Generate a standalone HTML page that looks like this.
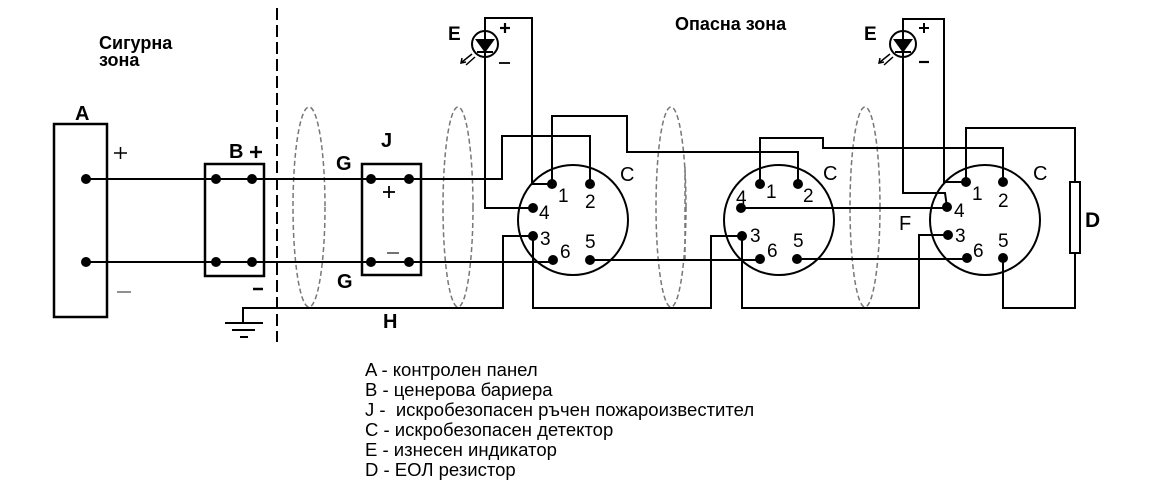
<!DOCTYPE html>
<html><head><meta charset="utf-8"><style>
html,body{margin:0;padding:0;background:#fff;}
svg{display:block;}
text{font-family:"Liberation Sans",Arial,sans-serif;fill:#000;}
.b{font-weight:bold;}
</style></head><body>
<svg width="1152" height="483" viewBox="0 0 1152 483" xmlns="http://www.w3.org/2000/svg">
<rect width="1152" height="483" fill="#fff"/>
<!-- zone titles -->
<text x="99" y="49" class="b" font-size="18">Сигурна</text>
<text x="99" y="66" class="b" font-size="18">зона</text>
<text x="675" y="30" class="b" font-size="18">Опасна зона</text>

<!-- dashed zone border -->
<line x1="277" y1="8" x2="277" y2="342" stroke="#000" stroke-width="2" stroke-dasharray="12,5"/>

<!-- shield ellipses -->
<g fill="none" stroke="#777" stroke-width="1.5" stroke-dasharray="5,3">
<ellipse cx="309" cy="207" rx="16" ry="100"/>
<ellipse cx="458" cy="207" rx="15" ry="100"/>
<ellipse cx="671" cy="207" rx="15" ry="100"/>
<line x1="685" y1="167" x2="685" y2="262"/>
<ellipse cx="865" cy="207" rx="15" ry="100"/>
</g>

<g fill="none" stroke="#000" stroke-width="2">
<!-- A box -->
<rect x="54" y="124" width="53" height="193" stroke-width="2.5"/>
<!-- B box -->
<rect x="205" y="164" width="59" height="112" stroke-width="2.5"/>
<!-- J box -->
<rect x="362" y="164" width="59" height="111" stroke-width="2.5"/>

<!-- main lines -->
<line x1="86" y1="179" x2="409" y2="179"/>
<line x1="86" y1="262" x2="409" y2="262"/>
<!-- J+ to det1 pin2 -->
<polyline points="409,179 502,179 502,136 590,136 590,184"/>
<!-- J- to det1 pin6 -->
<line x1="409" y1="262" x2="553" y2="262"/>

<!-- H ground line -->
<polyline points="243,323 243,308 503,308 503,236 533,236"/>
<line x1="225" y1="323" x2="263" y2="323"/>
<line x1="232" y1="330" x2="255" y2="330"/>
<line x1="240" y1="337" x2="248" y2="337"/>

<!-- LED1 box -->
<polyline points="533,208 485,208 485,18 532,18 532,184 552,184"/>

<!-- det1 -->
<circle cx="573" cy="220" r="55"/>
<polyline points="552,184 552,116 627,116 627,152 798,152 798,184"/>
<polyline points="533,236 533,308 711,308 711,236 742,236"/>
<line x1="590" y1="260" x2="760" y2="260"/>

<!-- det2 -->
<circle cx="779" cy="220" r="55"/>
<polyline points="760,184 760,138 823,138 823,148 1003,148 1003,182"/>
<line x1="741" y1="208" x2="947" y2="208"/>
<polyline points="742,236 742,308 919,308 919,235 948,235"/>
<line x1="797" y1="259" x2="967" y2="259"/>

<!-- LED2 box -->
<polyline points="947,207 945,193 903,193 903,19 944,19 944,182 966,182"/>

<!-- det3 -->
<circle cx="985" cy="220" r="55"/>
<polyline points="966,182 966,128 1075,128 1075,182"/>
<rect x="1070" y="182" width="10" height="71" stroke-width="2"/>
<polyline points="1075,253 1075,308 1003,308 1003,258"/>
</g>

<!-- dots -->
<g fill="#000">
<circle cx="86" cy="179" r="5"/><circle cx="86" cy="262" r="5"/>
<circle cx="216" cy="179" r="5"/><circle cx="252" cy="179" r="5"/>
<circle cx="216" cy="262" r="5"/><circle cx="252" cy="262" r="5"/>
<circle cx="371" cy="179" r="5"/><circle cx="409" cy="179" r="5"/>
<circle cx="371" cy="262" r="5"/><circle cx="409" cy="262" r="5"/>
<!-- det1 pins -->
<circle cx="552" cy="184" r="5"/><circle cx="590" cy="184" r="5"/>
<circle cx="533" cy="208" r="5"/><circle cx="533" cy="236" r="5"/>
<circle cx="553" cy="260" r="5"/><circle cx="590" cy="260" r="5"/>
<!-- det2 pins -->
<circle cx="760" cy="184" r="5"/><circle cx="798" cy="184" r="5"/>
<circle cx="741" cy="208" r="5"/><circle cx="742" cy="236" r="5"/>
<circle cx="760" cy="259" r="5"/><circle cx="797" cy="259" r="5"/>
<!-- det3 pins -->
<circle cx="966" cy="182" r="5"/><circle cx="1003" cy="182" r="5"/>
<circle cx="947" cy="207" r="5"/><circle cx="948" cy="235" r="5"/>
<circle cx="967" cy="258" r="5"/><circle cx="1003" cy="258" r="5"/>
</g>

<!-- LED symbols -->
<g stroke="#000" stroke-width="2" fill="none">
<circle cx="485" cy="44" r="13"/>
<polygon points="477,40 493,40 485,51" fill="#000"/>
<line x1="477" y1="52" x2="493" y2="52"/>
<line x1="472" y1="54" x2="462" y2="62" stroke-width="1.5"/>
<line x1="475" y1="57" x2="466" y2="65" stroke-width="1.5"/>
<polyline points="462,58 461,63 466,62" stroke-width="1.5"/>
<circle cx="903" cy="44" r="13"/>
<polygon points="895,40 911,40 903,51" fill="#000"/>
<line x1="895" y1="52" x2="911" y2="52"/>
<line x1="890" y1="54" x2="880" y2="62" stroke-width="1.5"/>
<line x1="893" y1="57" x2="884" y2="65" stroke-width="1.5"/>
<polyline points="880,58 879,63 884,62" stroke-width="1.5"/>
</g>

<!-- plus / minus marks -->
<g stroke="#000" fill="none">
<line x1="114" y1="153" x2="127" y2="153" stroke-width="1.5"/><line x1="120.5" y1="147" x2="120.5" y2="159" stroke-width="1.5"/>
<line x1="117" y1="292" x2="131" y2="292" stroke-width="1.3" stroke="#555"/>
<line x1="250" y1="152" x2="262" y2="152" stroke-width="2.5"/><line x1="256" y1="146" x2="256" y2="158" stroke-width="2.5"/>
<line x1="253" y1="289" x2="263" y2="289" stroke-width="2.5"/>
<line x1="383" y1="192" x2="395" y2="192" stroke-width="1.8"/><line x1="389" y1="186" x2="389" y2="198" stroke-width="1.8"/>
<line x1="387" y1="253" x2="399" y2="253" stroke-width="1.5" stroke="#444"/>
<line x1="500" y1="28" x2="510" y2="28" stroke-width="2.2"/><line x1="505" y1="23" x2="505" y2="33" stroke-width="2.2"/>
<line x1="499" y1="63" x2="510" y2="63" stroke-width="1.8"/>
<line x1="919" y1="28" x2="929" y2="28" stroke-width="2"/><line x1="924" y1="23" x2="924" y2="33" stroke-width="2"/>
<line x1="919" y1="62" x2="929" y2="62" stroke-width="2.2"/>
</g>

<!-- labels -->
<text x="75" y="120" class="b" font-size="20">A</text>
<text x="229" y="158" class="b" font-size="20">B</text>
<text x="336" y="170" class="b" font-size="20">G</text>
<text x="337" y="288" class="b" font-size="20">G</text>
<text x="381" y="147" class="b" font-size="20">J</text>
<text x="383" y="328" class="b" font-size="20">H</text>
<text x="448" y="40" class="b" font-size="19">E</text>
<text x="864" y="40" class="b" font-size="19">E</text>
<text x="620" y="181" font-size="20">C</text>
<text x="823" y="180" font-size="20">C</text>
<text x="1033" y="180" font-size="20">C</text>
<text x="899" y="230" font-size="20">F</text>
<text x="1085" y="227" class="b" font-size="21">D</text>

<!-- pin numbers -->
<g font-size="19">
<text x="558" y="202">1</text><text x="585" y="208">2</text>
<text x="539" y="219">4</text><text x="540" y="245">3</text>
<text x="560" y="258">6</text><text x="585" y="248">5</text>

<text x="766" y="198">1</text><text x="803" y="202">2</text>
<text x="736" y="204">4</text><text x="750" y="242">3</text>
<text x="767" y="257">6</text><text x="793" y="247">5</text>

<text x="972" y="200">1</text><text x="998" y="207">2</text>
<text x="954" y="217">4</text><text x="955" y="242">3</text>
<text x="973" y="257">6</text><text x="998" y="247">5</text>
</g>

<!-- legend -->
<g font-size="18.5">
<text x="365" y="376">A - контролен панел</text>
<text x="365" y="396">B - ценерова бариера</text>
<text x="365" y="416" xml:space="preserve">J -  искробезопасен ръчен пожароизвестител</text>
<text x="365" y="436">C - искробезопасен детектор</text>
<text x="365" y="456">E - изнесен индикатор</text>
<text x="365" y="476">D - ЕОЛ резистор</text>
</g>
</svg>
</body></html>
